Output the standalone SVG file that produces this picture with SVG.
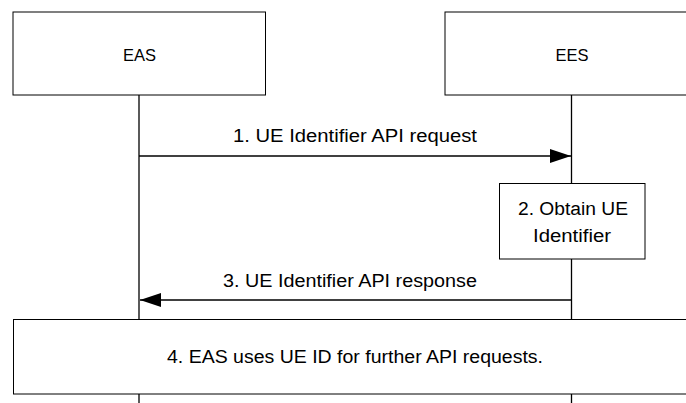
<svg xmlns="http://www.w3.org/2000/svg" width="686" height="403" viewBox="0 0 686 403">
<style>
.box{fill:#fff;stroke:#000;stroke-width:1}
.life{stroke:#000;stroke-width:1.3;fill:none}
.msg{stroke:#000;stroke-width:1.3;fill:none}
text{font-family:"Liberation Sans",Arial,sans-serif;font-size:18px;fill:#000;text-anchor:middle}
.name{font-size:16.5px}
</style>
<defs>
<marker id="ah" viewBox="0 0 21 14" refX="21" refY="7" markerWidth="21" markerHeight="14" markerUnits="userSpaceOnUse" orient="auto">
<path d="M0,0 L21,7 L0,14 Z" fill="#000"/>
</marker>
</defs>
<g id="lifelines">
<line class="life" x1="139" y1="95" x2="139" y2="403"/>
<line class="life" x1="571.5" y1="95" x2="571.5" y2="403"/>
</g>
<g id="EAS">
<rect class="box" x="13" y="12" width="252.5" height="83"/>
<text class="name" x="139.5" y="61">EAS</text>
</g>
<g id="EES">
<rect class="box" x="445" y="12" width="250" height="83"/>
<text class="name" x="572" y="61">EES</text>
</g>
<g id="connectors">
<line class="msg" x1="139" y1="156" x2="571" y2="156" marker-end="url(#ah)"/>
<text x="355" y="141.5" textLength="244" lengthAdjust="spacingAndGlyphs">1. UE Identifier API request</text>
<line class="msg" x1="571.5" y1="300" x2="140" y2="300" marker-end="url(#ah)"/>
<text x="350" y="287" textLength="254" lengthAdjust="spacingAndGlyphs">3. UE Identifier API response</text>
</g>
<g id="step2">
<rect class="box" x="499.5" y="183.5" width="145.5" height="75.5"/>
<text x="573" y="215" textLength="110" lengthAdjust="spacingAndGlyphs">2. Obtain UE</text>
<text x="572" y="241.5" textLength="78" lengthAdjust="spacingAndGlyphs">Identifier</text>
</g>
<g id="step4">
<rect class="box" x="13.5" y="319.5" width="690" height="74.5"/>
<text x="355" y="363" textLength="376" lengthAdjust="spacingAndGlyphs">4. EAS uses UE ID for further API requests.</text>
</g>
</svg>
